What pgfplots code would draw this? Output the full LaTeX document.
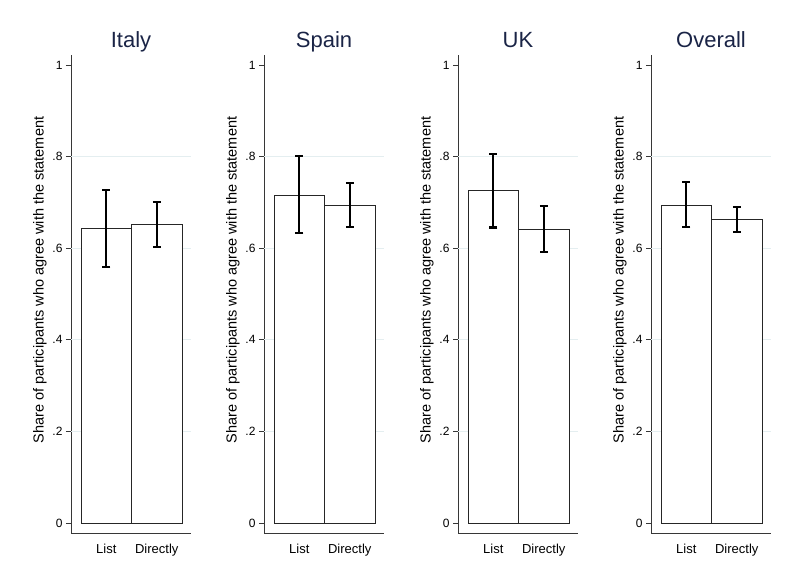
\documentclass[border=0pt]{standalone}
\usepackage{pgfplots}
\pgfplotsset{compat=1.18}
\usepackage{pgfplotstable}
\usepackage{fontspec}
\setmainfont{Liberation Sans}
\definecolor{titlec}{RGB}{26,36,70}
\definecolor{gridc}{RGB}{228,238,240}
\definecolor{linec}{RGB}{55,55,55}

\pgfplotstableread{
x y ep em
0 0.644 0.083 0.085
1 0.651 0.050 0.048
}\italy
\pgfplotstableread{
x y ep em
0 0.716 0.085 0.083
1 0.694 0.048 0.048
}\spain
\pgfplotstableread{
x y ep em
0 0.725 0.081 0.080
1 0.641 0.051 0.049
}\uk
\pgfplotstableread{
x y ep em
0 0.694 0.050 0.047
1 0.662 0.028 0.027
}\overall

\pgfplotsset{
  panel/.style={
    scale only axis, width=120pt, height=478pt,
    anchor=south west,
    xmin=-0.698, xmax=1.678,
    ymin=-0.0218, ymax=1.0218,
    axis x line*=bottom, axis y line*=left,
    axis line style={-, linec, line width=1pt},
    xtick={0,1}, xticklabels={List,Directly},
    x tick style={draw=none},
    xticklabel style={font=\fontsize{13}{15}\selectfont, yshift=-3pt},
    ytick={0,0.2,0.4,0.6,0.8,1},
    yticklabels={0,.2,.4,.6,.8,1},
    yticklabel style={font=\fontsize{12}{14}\selectfont},
    y tick style={linec, line width=0.8pt},
    tick align=outside, major tick length=5pt,
    extra y ticks={0.2,0.4,0.6,0.8},
    extra y tick labels={},
    extra y tick style={grid=major, major tick length=0pt, major grid style={gridc, line width=0.8pt}},
    ylabel={Share of participants who agree with the statement},
    ylabel style={font=\fontsize{14.5}{16}\selectfont, yshift=-6pt, xshift=14pt},
    title style={font=\fontsize{22}{24}\selectfont, color=titlec, at={(0.5,1)}, anchor=base, yshift=1pt},
    clip=false,
  },
  barplot/.style={
    ybar, bar width=50.5pt, fill=white, draw=black!85, line width=1pt,
    error bars/.cd, y dir=both, y explicit,
    error bar style={black, line width=2.2pt},
    error mark options={rotate=90, black, line width=2.2pt, mark size=4pt},
  },
}

\begin{document}
\begin{tikzpicture}[x=1pt,y=1pt]
\path[use as bounding box] (0,0) rectangle (800,582);
\begin{axis}[panel, at={(71pt,49pt)}, title={Italy}]
\addplot[barplot] table[x=x, y=y, y error plus=ep, y error minus=em] {\italy};
\end{axis}
\begin{axis}[panel, at={(264pt,49pt)}, title={Spain}]
\addplot[barplot] table[x=x, y=y, y error plus=ep, y error minus=em] {\spain};
\end{axis}
\begin{axis}[panel, at={(458pt,49pt)}, title={UK}]
\addplot[barplot] table[x=x, y=y, y error plus=ep, y error minus=em] {\uk};
\end{axis}
\begin{axis}[panel, at={(651pt,49pt)}, title={Overall}]
\addplot[barplot] table[x=x, y=y, y error plus=ep, y error minus=em] {\overall};
\end{axis}
\end{tikzpicture}
\end{document}
